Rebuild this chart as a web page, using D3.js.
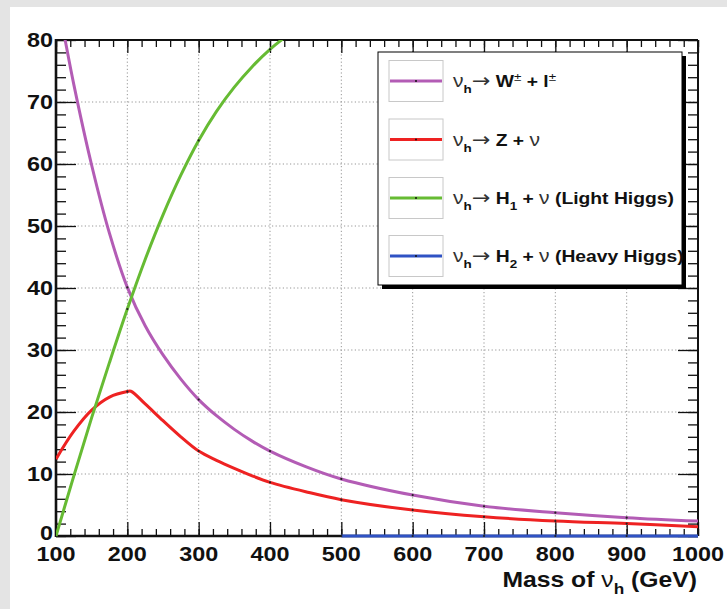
<!DOCTYPE html>
<html>
<head>
<meta charset="utf-8">
<script src="https://d3js.org/d3.v7.min.js"></script>
<style>
  html, body { margin: 0; padding: 0; background: #e4e4e4; }
  svg { display: block; }
  text { font-family: "Liberation Sans", Arial, Helvetica, sans-serif; }
</style>
</head>
<body>
<svg id="chart" width="727" height="609"></svg>
<script>
// ---------------- data ----------------
const xTickValues = [100, 200, 300, 400, 500, 600, 700, 800, 900, 1000];
const yTickValues = [0, 10, 20, 30, 40, 50, 60, 70, 80];

const wlMass = [100, 112.5, 125, 150, 175, 200, 225, 250, 275, 300, 325, 350, 375, 400, 450, 500, 600, 700, 800, 900, 1000];
const wlBR   = [88, 80.2, 72.8, 59.8, 48.8, 40.1, 33.9, 29.2, 25.3, 22.0, 19.4, 17.2, 15.3, 13.7, 11.2, 9.2, 6.6, 4.8, 3.76, 2.96, 2.4];

const zMass = [100, 125, 150, 175, 200, 205, 225, 250, 275, 300, 325, 350, 375, 400, 450, 500, 600, 700, 800, 900, 1000];
const zBR   = [12.4, 16.9, 20.3, 22.4, 23.3, 23.35, 21.3, 18.6, 16.0, 13.7, 12.2, 10.9, 9.7, 8.66, 7.15, 5.86, 4.19, 3.1, 2.42, 2.0, 1.5];

const h1Mass = [100, 125, 150, 175, 200, 225, 250, 275, 300, 325, 350, 375, 400, 425];
const h1BR   = [0, 9.7, 19.1, 28.0, 36.6, 44.6, 51.8, 58.2, 63.8, 68.5, 72.4, 75.7, 78.5, 80.8];

const h2Mass = [500, 600, 700, 800, 900, 1000];
const h2BR   = [0, 0, 0, 0, 0, 0];

const seriesColors = ["#b35cb5", "#ee2222", "#66bb33", "#2f52c4"];
const xTitle = ["Mass of ", "ν", "h", " (GeV)"];
const legendLabels = [
  [{t:"ν",w:"n"},{t:"h",w:"b",sub:1},{t:"→",w:"a"},{t:" W",w:"b"},{t:"±",w:"n",sup:1},{t:" + l",w:"b"},{t:"±",w:"n",sup:1}],
  [{t:"ν",w:"n"},{t:"h",w:"b",sub:1},{t:"→",w:"a"},{t:" Z + ",w:"b"},{t:"ν",w:"n"}],
  [{t:"ν",w:"n"},{t:"h",w:"b",sub:1},{t:"→",w:"a"},{t:" H",w:"b"},{t:"1",w:"b",sub:1},{t:" + ",w:"b"},{t:"ν",w:"n"},{t:" (Light Higgs)",w:"b"}],
  [{t:"ν",w:"n"},{t:"h",w:"b",sub:1},{t:"→",w:"a"},{t:" H",w:"b"},{t:"2",w:"b",sub:1},{t:" + ",w:"b"},{t:"ν",w:"n"},{t:" (Heavy Higgs)",w:"b"}]
];

// ---------------- layout ----------------
const svg = d3.select("#chart");
const L = 56, R = 698, T = 40, B = 536;
const SX = 1.17;
const x = d3.scaleLinear().domain([100, 1000]).range([L, R]);
const y = d3.scaleLinear().domain([0, 80]).range([B, T]);

svg.append("rect").attr("width", 727).attr("height", 609).attr("fill", "#e4e4e4");
svg.append("rect").attr("x", 10).attr("y", 7).attr("width", 717).attr("height", 602).attr("fill", "#ffffff");

// grid
const grid = svg.append("g").attr("stroke", "#8a8a8a").attr("stroke-width", 0.9).attr("stroke-dasharray", "1.2,2.4");
grid.selectAll("line.gx").data(xTickValues.slice(1, -1)).join("line")
  .attr("x1", d => x(d)).attr("x2", d => x(d)).attr("y1", T).attr("y2", B);
grid.selectAll("line.gy").data(yTickValues.slice(1, -1)).join("line")
  .attr("x1", L).attr("x2", R).attr("y1", d => y(d)).attr("y2", d => y(d));

// axes ticks (inward)
function ticks(gen, tr) {
  const g = svg.append("g").attr("transform", tr).call(gen);
  g.select(".domain").remove();
  g.selectAll("line").attr("stroke", "#111").attr("stroke-width", 1.3);
  return g;
}
const xMinor = d3.range(100, 1001, 20);
const yMinor = d3.range(0, 81, 2);
ticks(d3.axisBottom(x).tickValues(xMinor).tickSize(-7).tickFormat(""), `translate(0,${B})`);
ticks(d3.axisBottom(x).tickValues(xTickValues).tickSize(-14).tickFormat(""), `translate(0,${B})`);
ticks(d3.axisTop(x).tickValues(xMinor).tickSize(-7).tickFormat(""), `translate(0,${T})`);
ticks(d3.axisTop(x).tickValues(xTickValues).tickSize(-13).tickFormat(""), `translate(0,${T})`);
ticks(d3.axisLeft(y).tickValues(yMinor).tickSize(-10).tickFormat(""), `translate(${L},0)`);
ticks(d3.axisLeft(y).tickValues(yTickValues).tickSize(-20).tickFormat(""), `translate(${L},0)`);
ticks(d3.axisRight(y).tickValues(yMinor).tickSize(-10).tickFormat(""), `translate(${R},0)`);
ticks(d3.axisRight(y).tickValues(yTickValues).tickSize(-20).tickFormat(""), `translate(${R},0)`);

// frame
svg.append("line").attr("x1", L).attr("x2", R).attr("y1", T).attr("y2", T).attr("stroke", "#111").attr("stroke-width", 2);
svg.append("line").attr("x1", R).attr("x2", R).attr("y1", T).attr("y2", B).attr("stroke", "#111").attr("stroke-width", 2);
svg.append("line").attr("x1", L).attr("x2", R).attr("y1", B).attr("y2", B).attr("stroke", "#111").attr("stroke-width", 2.6);
svg.append("line").attr("x1", L).attr("x2", L).attr("y1", T - 1).attr("y2", B + 1).attr("stroke", "#111").attr("stroke-width", 2.6);

// tick labels
svg.append("g").selectAll("text").data(xTickValues).join("text")
  .attr("transform", d => `translate(${x(d)},561) scale(${SX},1)`)
  .attr("text-anchor", "middle").attr("font-size", 20).attr("font-weight", "bold").attr("fill", "#111")
  .text(d => d);
svg.append("g").selectAll("text").data(yTickValues).join("text")
  .attr("transform", d => `translate(53,${y(d) + (d === 0 ? 4 : 7)}) scale(${SX},1)`)
  .attr("text-anchor", "end").attr("font-size", 20).attr("font-weight", "bold").attr("fill", "#111")
  .text(d => d);

// axis title
const tt = svg.append("text").attr("transform", `translate(697,587) scale(${SX - 0.02},1)`)
  .attr("text-anchor", "end").attr("font-size", 21.5).attr("font-weight", "bold").attr("fill", "#111");
tt.append("tspan").text(xTitle[0]);
tt.append("tspan").attr("font-weight", "normal").text(xTitle[1]);
tt.append("tspan").attr("font-size", 15).attr("dy", 7).text(xTitle[2]);
tt.append("tspan").attr("dy", -7).text(xTitle[3]);

// curves
svg.append("clipPath").attr("id", "plotclip").append("rect")
  .attr("x", L).attr("y", T).attr("width", R - L).attr("height", B - T + 2);
const plot = svg.append("g").attr("clip-path", "url(#plotclip)");
const allSeries = [
  {m: wlMass, v: wlBR}, {m: zMass, v: zBR}, {m: h1Mass, v: h1BR}, {m: h2Mass, v: h2BR}
];
const line = d3.line().x(d => x(d[0])).y(d => y(d[1])).curve(d3.curveCatmullRom.alpha(0.5));
allSeries.forEach((s, i) => {
  const pts = s.m.map((m, k) => [m, s.v[k]]);
  plot.append("path").datum(pts).attr("d", line)
    .attr("fill", "none").attr("stroke", seriesColors[i]).attr("stroke-width", 3)
    .attr("stroke-linejoin", "round");
  plot.selectAll(null).data(pts.filter(p => p[0] % 100 === 0 && p[0] > 100 && p[0] < 1000)).join("circle")
    .attr("cx", p => x(p[0])).attr("cy", p => y(p[1])).attr("r", 1.1).attr("fill", "#222");
});

// legend
const LX = 378, LY = 52, LW = 304, LH = 233;
svg.append("rect").attr("x", LX + 4).attr("y", LY + 4).attr("width", LW).attr("height", LH).attr("fill", "#000");
svg.append("rect").attr("x", LX).attr("y", LY).attr("width", LW).attr("height", LH)
  .attr("fill", "#fff").attr("stroke", "#000").attr("stroke-width", 1);
const entryY = [81, 139.5, 198, 256];
legendLabels.forEach((parts, i) => {
  const cy = entryY[i];
  svg.append("rect").attr("x", 389).attr("y", cy - 20.5).attr("width", 54).attr("height", 41)
    .attr("fill", "none").attr("stroke", "#c8c8c8").attr("stroke-width", 1);
  svg.append("line").attr("x1", 390).attr("x2", 442).attr("y1", cy).attr("y2", cy)
    .attr("stroke", seriesColors[i]).attr("stroke-width", 3);
  svg.append("circle").attr("cx", 416).attr("cy", cy).attr("r", 1).attr("fill", "#111");
  const t = svg.append("text").attr("transform", `translate(453,${cy + 6}) scale(${SX},1)`)
    .attr("font-size", 16.5).attr("fill", "#111");
  let shift = 0;
  parts.forEach(p => {
    const ts = t.append("tspan").text(p.t).attr("font-weight", p.w === "b" ? "bold" : "normal");
    let target = p.sub ? 6 : (p.sup ? -6 : 0);
    if (p.sub || p.sup) ts.attr("font-size", 11.5);
    if (p.w === "n" && !p.sup) ts.attr("fill", "#333").attr("font-size", p.t === "ν" ? 18 : 16.5);
    if (p.w === "a") ts.attr("font-family", "DejaVu Sans").attr("font-size", 19).attr("fill", "#333");
    ts.attr("dy", target - shift);
    shift = target;
  });
});
</script>
</body>
</html>
